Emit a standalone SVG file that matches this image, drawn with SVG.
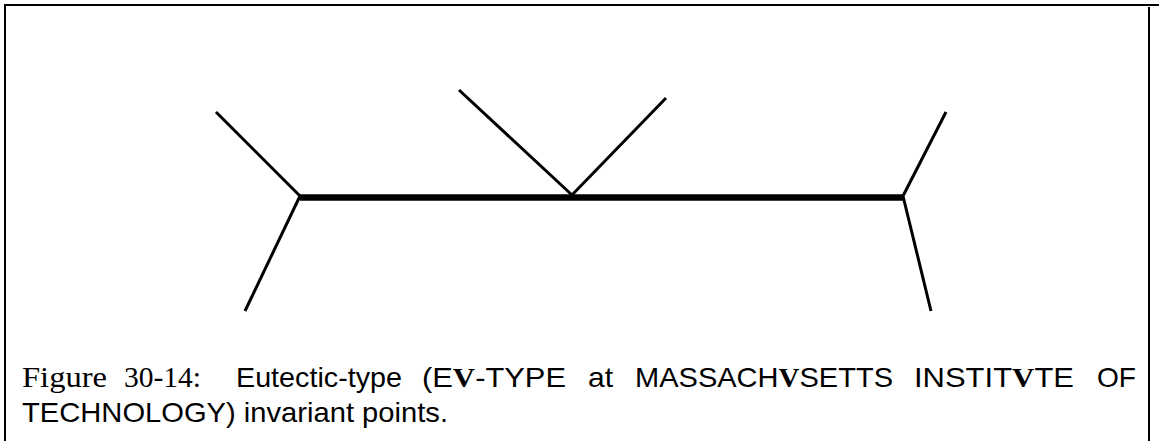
<svg xmlns="http://www.w3.org/2000/svg" width="1159" height="441" viewBox="0 0 1159 441">
<style>
.frame{stroke:#000;stroke-width:2;fill:none}
.thin{stroke:#000;stroke-width:3;stroke-linecap:butt;fill:none}
.thick{stroke:#000;stroke-width:6.5;fill:none}
.serif{font-family:"Liberation Serif",serif;font-size:30px;fill:#000}
.sans{font-family:"Liberation Sans",Arial,sans-serif;font-size:28px;fill:#000}
.bv{font-family:"Liberation Serif",serif;font-weight:bold}
</style>
<rect width="1159" height="441" fill="#fff"/>
<g id="frame">
<line class="frame" x1="5" y1="5" x2="1159" y2="5"/>
<line class="frame" x1="5" y1="4" x2="5" y2="441"/>
<line class="frame" x1="1149" y1="7" x2="1149" y2="441"/>
</g>
<g id="connectors">
<line class="thick" x1="300" y1="197.5" x2="903" y2="197.5"/>
</g>
<g id="node-left">
<polyline class="thin" points="216,112 300,196 245,311"/>
</g>
<g id="node-middle">
<polyline class="thin" points="459,90 572,195 666,98"/>
</g>
<g id="node-right">
<polyline class="thin" points="946,112 903,196 931,311"/>
</g>
<g id="caption">
<text class="serif" x="22" y="387" textLength="85" lengthAdjust="spacingAndGlyphs">Figure</text>
<text class="serif" x="124" y="387" textLength="77" lengthAdjust="spacingAndGlyphs">30-14:</text>
<text class="sans" x="236" y="387" textLength="166" lengthAdjust="spacingAndGlyphs">Eutectic-type</text>
<text class="sans" x="422" y="387" textLength="144" lengthAdjust="spacingAndGlyphs">(E<tspan class="bv">V</tspan>-TYPE</text>
<text class="sans" x="588" y="387" textLength="25" lengthAdjust="spacingAndGlyphs">at</text>
<text class="sans" x="635" y="387" textLength="258" lengthAdjust="spacingAndGlyphs">MASSACH<tspan class="bv">V</tspan>SETTS</text>
<text class="sans" x="914" y="387" textLength="160" lengthAdjust="spacingAndGlyphs">INSTIT<tspan class="bv">V</tspan>TE</text>
<text class="sans" x="1097" y="387" textLength="39" lengthAdjust="spacingAndGlyphs">OF</text>
<text class="sans" x="22" y="422" textLength="426" lengthAdjust="spacingAndGlyphs">TECHNOLOGY) invariant points.</text>
</g>
</svg>
